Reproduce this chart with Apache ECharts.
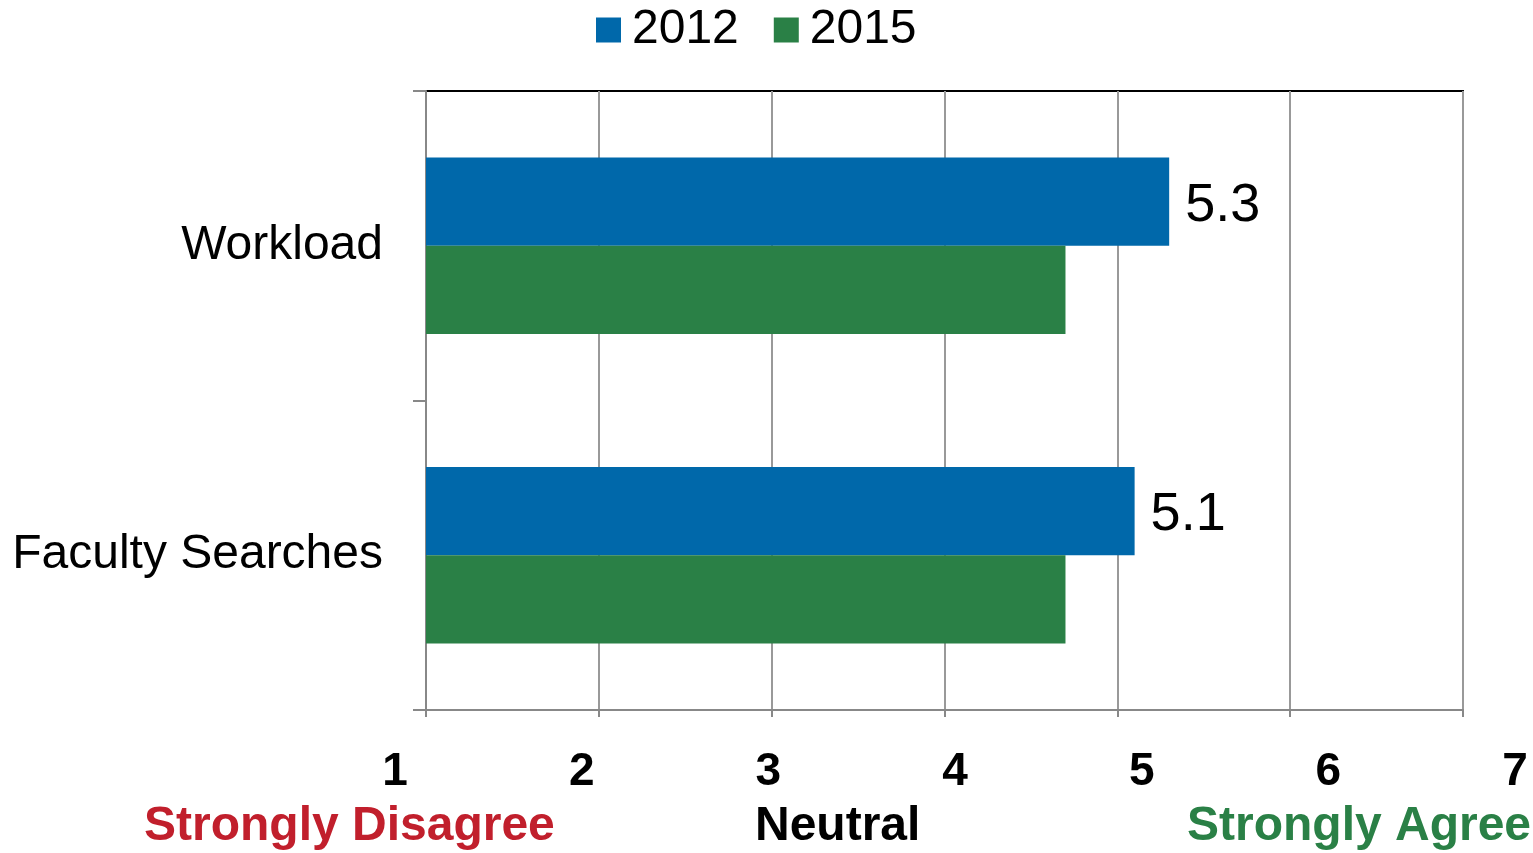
<!DOCTYPE html>
<html>
<head>
<meta charset="utf-8">
<script src="https://cdn.jsdelivr.net/npm/echarts@6/dist/echarts.min.js"></script>
<style>
  html, body { margin: 0; padding: 0; background: #fff; }
  #main { width: 1533px; height: 853px; }
</style>
</head>
<body>
<div id="main"></div>
<script>
var categories = ['Workload', 'Faculty Searches'];
var seriesNames = ['2012', '2015'];
var values2012 = [5.3, 5.1];
var values2015 = [4.7, 4.7];
var scaleTicks = [1, 2, 3, 4, 5, 6, 7];
var scaleNotes = ['Strongly Disagree', 'Neutral', 'Strongly Agree'];

var myChart = echarts.init(document.getElementById('main'));
var font = '"Liberation Sans", Arial, sans-serif';

var option = {
    animation: false,
    textStyle: { fontFamily: font },
    legend: {
        top: 1,
        left: 591,
        itemWidth: 25,
        itemHeight: 25,
        itemGap: 35,
        icon: 'rect',
        textStyle: { fontSize: 48, color: '#000', padding: [0, 0, 0, 6] },
        data: seriesNames
    },
    grid: [
        { left: 426, right: 70, top: 91, bottom: 143, show: true, borderColor: '#000', borderWidth: 2 },
        // second strip only for the scale numbers (they sit offset from the grid lines)
        { left: 395, right: 18, top: 746, height: 1 }
    ],
    xAxis: [
        {
            type: 'value', gridIndex: 0, min: 1, max: 7, interval: 1,
            axisLine: { show: true, lineStyle: { color: '#888', width: 2 } },
            axisTick: { show: true, length: 7, lineStyle: { color: '#888', width: 2 } },
            axisLabel: { show: false },
            splitLine: { show: true, lineStyle: { color: '#999', width: 2 } }
        },
        {
            type: 'value', gridIndex: 1, min: 1, max: 7, interval: 1,
            axisLine: { show: false }, axisTick: { show: false }, splitLine: { show: false },
            axisLabel: {
                margin: 2, fontSize: 46, fontWeight: 'bold', color: '#000',
                formatter: function (v) { return scaleTicks.indexOf(v) >= 0 ? String(v) : ''; }
            }
        }
    ],
    yAxis: [
        {
            type: 'category', gridIndex: 0, inverse: true, data: categories,
            axisLine: { show: true, lineStyle: { color: '#888', width: 2 } },
            axisTick: { show: true, length: 13, lineStyle: { color: '#888', width: 2 } },
            axisLabel: { fontSize: 48, color: '#000', margin: 43, padding: [6, 0, 0, 0] }
        },
        { type: 'value', gridIndex: 1, show: false }
    ],
    series: [
        {
            name: seriesNames[0], type: 'bar', data: values2012,
            barGap: '0%', barCategoryGap: '43%',
            itemStyle: { color: '#0068AA' },
            label: {
                show: true, position: 'right', distance: 16, offset: [0, 4], fontSize: 54, color: '#000',
                formatter: function (p) { return p.value.toFixed(1); }
            }
        },
        {
            name: seriesNames[1], type: 'bar', data: values2015,
            barGap: '0%', barCategoryGap: '43%',
            itemStyle: { color: '#2A8046' }
        }
    ],
    graphic: [
        { type: 'text', left: 144, top: 803, style: { text: scaleNotes[0], fill: '#C11F2C', font: 'bold 48px ' + font } },
        { type: 'text', left: 755, top: 803, style: { text: scaleNotes[1], fill: '#000', font: 'bold 48px ' + font } },
        { type: 'text', left: 1187, top: 803, style: { text: scaleNotes[2], fill: '#2A8046', font: 'bold 48px ' + font } }
    ]
};

myChart.setOption(option);
</script>
</body>
</html>
